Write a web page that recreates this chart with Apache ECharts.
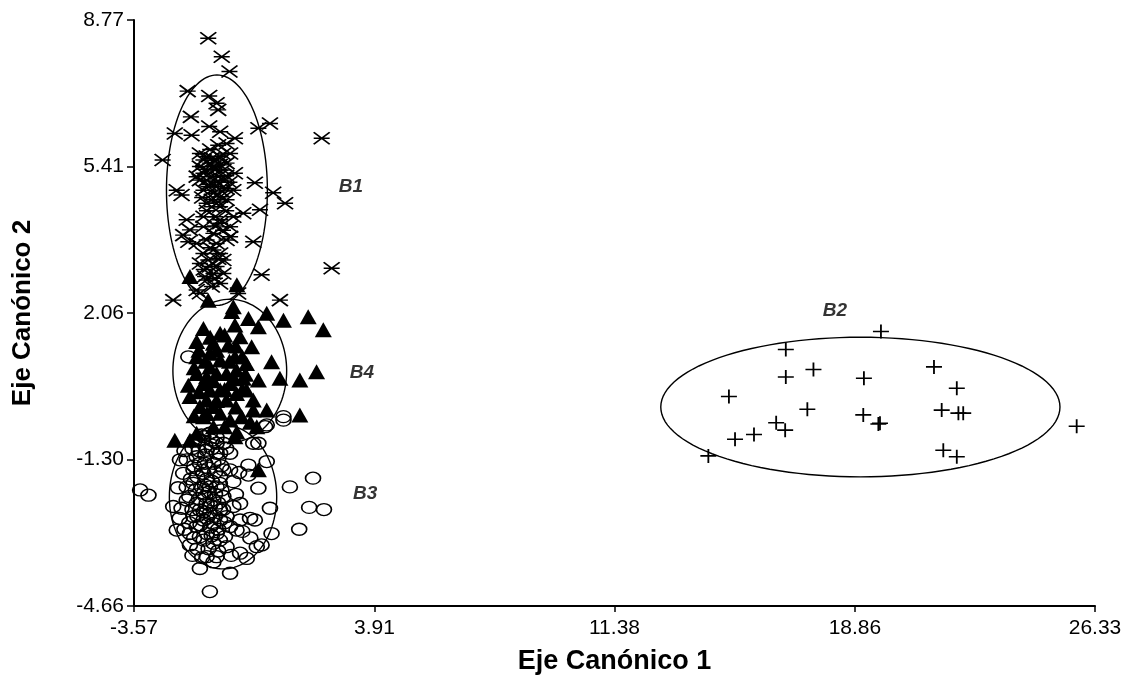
<!DOCTYPE html>
<html>
<head>
<meta charset="utf-8">
<script src="https://cdn.jsdelivr.net/npm/echarts@6/dist/echarts.min.js"></script>
<style>
html,body{margin:0;padding:0;background:#fff;}
#chart{width:1132px;height:680px;}
</style>
</head>
<body>
<div id="chart"></div>
<script>
// Tick labels
const xTicks = [-3.57, 3.91, 11.38, 18.86, 26.33];
const yTicks = [-4.66, -1.30, 2.06, 5.41, 8.77];

// Group B1 (asterisk-like crosses)
const groupB1 = [
[-1.26,8.35],[-0.84,7.93],[-0.60,7.59],[-1.90,7.14],[-1.23,7.03],[-1.00,6.86],[-0.95,6.71],[-1.80,6.55],
[0.66,6.40],[0.30,6.29],[-1.23,6.33],[-2.30,6.17],[-1.78,6.13],[-0.89,6.21],[-0.43,6.06],[-0.69,5.94],
[-2.68,5.56],[-1.41,5.56],[-1.52,5.41],[-1.10,5.41],[-0.58,5.71],[-0.89,5.64],[-0.43,5.26],[0.19,5.04],
[0.76,4.81],[1.13,4.57],[2.27,6.06],[-2.24,4.87],[-2.09,4.76],[-1.62,5.18],[-1.31,5.10],[-1.00,4.95],
[-0.69,4.91],[-0.48,4.87],[-1.31,4.57],[-0.89,4.49],[-0.17,4.34],[0.35,4.42],[-1.83,3.96],[-1.41,4.03],
[-0.89,4.11],[-0.58,4.03],[-1.10,3.88],[-1.88,3.69],[-1.62,3.65],[-0.69,3.73],[0.14,3.69],[-1.41,3.42],
[-1.10,3.50],[-0.79,3.27],[-1.21,3.12],[-1.10,2.96],[-0.89,2.73],[0.40,2.93],[2.58,3.08],[-2.35,2.35],
[-1.52,2.51],[0.97,2.35],[-0.33,2.50],
[-1.52,5.71],[-1.31,5.64],[-1.21,5.49],[-1.05,5.33],[-1.41,5.26],[-1.15,5.18],[-0.95,5.18],[-0.79,5.10],
[-1.26,4.95],[-1.10,4.80],[-1.41,4.87],[-0.79,5.33],[-1.00,5.56],[-0.69,5.49],[-1.52,5.10],[-0.89,4.72],
[-1.15,4.49],[-0.69,4.65],[-0.48,4.26],[-0.89,4.19],[-1.05,4.26],[-1.41,4.26],[-0.58,3.80],[-1.00,3.65],
[-1.31,3.73],[-0.89,3.42],[-1.26,3.27],[-1.00,3.12],[-1.52,3.19],[-0.79,2.96],[-1.36,2.89],[-1.15,2.66],
[-1.31,2.81],[-1.62,2.58],[-2.04,3.84],[-1.93,4.19],
[-1.20,5.80],[-0.95,5.90],[-1.35,5.35],[-0.90,5.45],[-1.15,5.60],[-0.70,5.20],[-1.00,5.05],[-1.25,5.00],
[-0.85,4.85],[-1.15,4.65],[-0.95,4.60],[-1.30,4.40],[-0.70,4.40],[-1.05,4.05],[-0.80,3.95],[-1.20,3.55],
[-0.95,3.30],[-1.40,3.05],[-1.05,2.85],[-0.80,5.70],[-1.45,4.70],[-0.60,5.05]
];

// Group B2 (plus signs)
const groupB2 = [
[19.67,1.63],[16.71,1.22],[16.71,0.59],[17.57,0.76],[19.14,0.56],[21.32,0.82],[22.03,0.33],[14.94,0.14],
[17.38,-0.15],[19.12,-0.28],[19.64,-0.47],[19.59,-0.49],[21.56,-0.17],[22.08,-0.24],[22.23,-0.24],[25.76,-0.54],
[16.41,-0.46],[16.69,-0.63],[15.72,-0.73],[15.13,-0.84],[14.30,-1.22],[21.61,-1.09],[22.03,-1.24]
];

// Group B3 (open circles)
const groupB3 = [
[-3.38,-2.00],[-3.12,-2.12],[1.28,-1.93],[2.00,-1.73],[1.88,-2.40],[2.34,-2.45],[1.57,-2.90],[0.56,-1.35],
[-0.01,-1.43],[-0.01,-1.66],[0.66,-2.42],[0.71,-3.00],[0.30,-1.96],[0.25,-3.30],[0.40,-3.26],[-0.06,-3.57],
[-0.58,-3.91],[-1.52,-3.80],[-1.21,-4.33],[-1.21,-0.70],[-1.47,-0.74],[-2.14,-1.31],[-2.35,-2.38],[-2.09,-2.42],
[-2.24,-2.92],[-1.83,-3.26],[-1.31,-3.53],[-1.00,-3.53],[-0.38,-2.92],[0.04,-2.65],[0.19,-2.69],[-0.27,-2.31],
[-0.48,-1.81],[-0.58,-1.54],[-0.89,-1.16],[-1.31,-1.09],[-1.72,-1.54],[-1.93,-1.93],[-1.62,-2.31],[-1.41,-2.69],
[-1.00,-3.00],[-0.89,-2.46],[-1.21,-1.93],[-1.36,-1.39],[-1.52,-3.07],[-0.69,-3.30],[-0.27,-3.45],[-1.93,-1.31],
[-2.04,-1.62],[-0.58,-1.16],[-0.79,-0.93],[0.14,-0.93],[0.51,-0.55],[1.08,-0.40],
[-1.62,-1.24],[-1.41,-1.62],[-1.10,-1.39],[-0.79,-1.54],[-1.72,-1.85],[-1.41,-2.08],[-1.00,-1.93],[-0.79,-2.15],
[-1.52,-2.46],[-1.21,-2.54],[-0.89,-2.69],[-1.62,-2.84],[-1.31,-3.00],[-1.10,-3.22],[-1.72,-2.61],[-0.69,-2.61],
[-0.48,-2.38],[-1.93,-2.23],[-1.31,-2.31],[-1.10,-2.23],[-1.83,-3.00],[-0.89,-1.70],[-1.10,-2.77],[-0.58,-2.84],
[-0.27,-2.69],[-0.74,-3.07],[-1.36,-1.89],[-1.52,-1.39],[-1.00,-1.16],[-1.15,-0.86],
[-1.88,1.05],[1.08,-0.32],[0.30,-0.93],[0.56,-0.51],[-1.41,-0.78],[-1.00,-0.93],[-1.67,-0.86],
[-1.75,-1.05],[-1.55,-1.10],[-1.35,-1.20],[-1.15,-1.05],[-0.95,-1.30],[-1.70,-1.45],[-1.45,-1.55],[-1.25,-1.50],
[-1.05,-1.60],[-0.85,-1.45],[-1.80,-1.75],[-1.60,-1.70],[-1.30,-1.75],[-1.15,-1.80],[-0.90,-1.85],[-1.65,-2.00],
[-1.45,-1.95],[-1.25,-2.05],[-1.05,-2.10],[-0.85,-2.00],[-1.85,-2.15],[-1.55,-2.20],[-1.35,-2.15],[-1.20,-2.35],
[-0.95,-2.30],[-1.75,-2.45],[-1.40,-2.50],[-1.05,-2.40],[-0.80,-2.45],[-1.60,-2.60],[-1.30,-2.65],[-1.05,-2.60],
[-0.75,-2.75],[-1.85,-2.75],[-1.50,-2.80],[-1.20,-2.85],[-0.95,-2.90],[-1.70,-3.10],[-1.40,-3.15],[-1.15,-3.05],
[-0.90,-3.15],[-1.60,-3.35],[-1.25,-3.35],[-0.95,-3.40],[-1.45,-3.55],[-1.10,-3.65],[-1.35,-1.00],[-1.00,-0.80],
[-1.55,-0.85],[-0.70,-1.05],[-2.00,-1.10],[-2.20,-1.95],[-2.15,-2.65],[-0.40,-2.10],[-0.30,-1.60],[-0.20,-2.95],
[0.05,-3.10],[-0.55,-3.50],[-1.75,-3.50],[-2.00,-2.90]
];

// Group B4 (filled triangles)
const groupB4 = [
[-1.83,2.89],[-0.37,2.70],[-1.26,2.35],[-0.48,2.20],[-0.53,2.09],[-0.01,1.93],[0.56,2.05],[1.08,1.89],
[1.85,1.97],[2.32,1.67],[0.30,1.74],[-0.43,1.78],[-1.41,1.70],[-0.89,1.59],[-0.27,1.51],[-1.62,1.40],
[-1.10,1.36],[-0.64,1.32],[0.09,1.28],[0.71,0.94],[2.11,0.71],[1.59,0.52],[0.97,0.56],[0.30,0.52],
[-0.17,0.56],[-0.69,0.67],[-1.21,0.82],[-1.62,1.05],[-1.41,0.44],[-0.89,0.29],[-0.38,0.21],[-1.83,0.14],
[-1.31,0.06],[0.14,0.06],[0.56,-0.17],[1.59,-0.28],[-1.41,-0.32],[-0.89,-0.24],[-0.58,-0.40],[-0.22,-0.32],
[0.25,-0.55],[-0.43,-0.78],[-2.30,-0.86],[-1.62,-0.70],[-1.10,-0.09],[-0.43,1.05],[-1.21,1.13],[-0.89,0.98],
[-0.07,0.90],[-1.62,0.67],[-1.88,0.40],[-1.31,0.60],[-0.58,0.44],[-1.00,0.67],[-0.38,0.75],[-1.52,-0.09],
[-0.69,0.06],[-1.21,0.29],[-0.07,0.29],[0.14,-0.17],[-1.83,-0.86],[-0.37,-0.67],[0.30,-1.54],
[-1.55,1.20],[-1.20,1.50],[-0.75,1.55],[-0.40,1.30],[-1.35,0.95],[-1.00,1.20],[-0.60,0.95],[-0.20,1.05],
[-1.70,0.80],[-1.10,0.50],[-0.75,0.30],[-0.45,0.55],[-0.10,0.65],[-1.55,0.25],[-1.00,0.05],[-0.40,-0.10],
[-1.30,-0.25],[-0.75,-0.55],[-1.10,-0.55],[-1.70,-0.30],[0.05,-0.45],[-0.20,0.30]
];

// Group ellipses: [centerX, centerY, radiusX, radiusY]
const ellipseB1 = [-0.99, 4.87, 1.57, 2.64];
const ellipseB2 = [19.03, -0.10, 6.21, 1.60];
const ellipseB3 = [-0.80, -2.16, 1.67, 1.65];
const ellipseB4 = [-0.59, 0.73, 1.77, 1.64];

// Group labels
const groupNames = ['B1', 'B2', 'B3', 'B4'];
const labelPositions = [[3.18, 4.94], [18.24, 2.10], [3.62, -2.09], [3.52, 0.68]];

const FONT = "'Liberation Sans', Arial, sans-serif";

const chart = echarts.init(document.getElementById('chart'), null, {renderer: 'canvas'});

function ellipseRender(params, api) {
  const c = api.coord([api.value(0), api.value(1)]);
  const s = api.size([api.value(2), api.value(3)]);
  const pts = [];
  const n = 120;
  for (let i = 0; i < n; i++) {
    const t = i / n * Math.PI * 2;
    pts.push([c[0] + s[0] * Math.cos(t), c[1] + s[1] * Math.sin(t)]);
  }
  return {
    type: 'polygon',
    shape: {points: pts},
    style: {fill: 'none', stroke: '#000', lineWidth: 1.4}
  };
}

const option = {
  animation: false,
  backgroundColor: '#fff',
  grid: {left: 134, right: 37, top: 20, bottom: 74, containLabel: false},
  xAxis: {
    type: 'value',
    min: xTicks[0],
    max: xTicks[xTicks.length - 1],
    name: 'Eje Canónico 1',
    nameLocation: 'middle',
    nameGap: 42,
    nameTextStyle: {fontFamily: FONT, fontWeight: 'bold', fontSize: 27, color: '#000'},
    axisLine: {show: true, onZero: false, lineStyle: {color: '#000', width: 2}},
    axisTick: {show: true, inside: false, length: 6, lineStyle: {color: '#000', width: 1.5}, customValues: xTicks},
    axisLabel: {
      show: true, margin: 12, fontFamily: FONT, fontSize: 21, color: '#000',
      customValues: xTicks,
      formatter: v => Number(v).toFixed(2),
      showMinLabel: true, showMaxLabel: true
    },
    splitLine: {show: false}
  },
  yAxis: {
    type: 'value',
    min: yTicks[0],
    max: yTicks[yTicks.length - 1],
    name: 'Eje Canónico 2',
    nameLocation: 'middle',
    nameGap: 98,
    nameRotate: 90,
    nameTextStyle: {fontFamily: FONT, fontWeight: 'bold', fontSize: 26, color: '#000'},
    axisLine: {show: true, onZero: false, lineStyle: {color: '#000', width: 2}},
    axisTick: {show: true, inside: false, length: 7, lineStyle: {color: '#000', width: 1.5}, customValues: yTicks},
    axisLabel: {
      show: true, margin: 10, fontFamily: FONT, fontSize: 21, color: '#000',
      customValues: yTicks,
      formatter: v => Number(v).toFixed(2),
      showMinLabel: true, showMaxLabel: true
    },
    splitLine: {show: false}
  },
  series: [
    {
      type: 'custom',
      name: 'ellipses',
      renderItem: ellipseRender,
      encode: {x: 0, y: 1},
      clip: false,
      silent: true,
      z: 1,
      data: [ellipseB1, ellipseB2, ellipseB3, ellipseB4]
    },
    {
      type: 'scatter',
      name: 'B1',
      symbol: 'path://M0,0L16,12M16,0L0,12M0,6L16,6',
      symbolSize: [16, 12],
      itemStyle: {color: 'rgba(0,0,0,0)', borderColor: '#000', borderWidth: 1.7, opacity: 1},
      z: 2,
      data: groupB1
    },
    {
      type: 'scatter',
      name: 'B4',
      symbol: 'triangle',
      symbolSize: [17, 15],
      itemStyle: {color: '#000', borderColor: '#000', borderWidth: 0, opacity: 1},
      z: 3,
      data: groupB4
    },
    {
      type: 'scatter',
      name: 'B3',
      symbol: 'circle',
      symbolSize: [15, 12],
      itemStyle: {color: 'rgba(255,255,255,0)', borderColor: '#000', borderWidth: 1.5, opacity: 1},
      z: 4,
      data: groupB3
    },
    {
      type: 'scatter',
      name: 'B2',
      symbol: 'path://M0,7L16,7M8,0L8,14',
      symbolSize: [16, 14],
      itemStyle: {color: 'rgba(0,0,0,0)', borderColor: '#000', borderWidth: 1.7, opacity: 1},
      z: 5,
      data: groupB2
    },
    {
      type: 'scatter',
      name: 'labels',
      symbol: 'circle',
      symbolSize: 1,
      itemStyle: {color: 'rgba(0,0,0,0)'},
      z: 6,
      label: {
        show: true, position: 'inside', formatter: '{b}',
        fontFamily: FONT, fontSize: 19, fontWeight: 'bold', fontStyle: 'italic', color: '#000'
      },
      data: groupNames.map((n, i) => ({name: n, value: labelPositions[i]}))
    }
  ]
};

chart.setOption(option);
</script>
</body>
</html>
